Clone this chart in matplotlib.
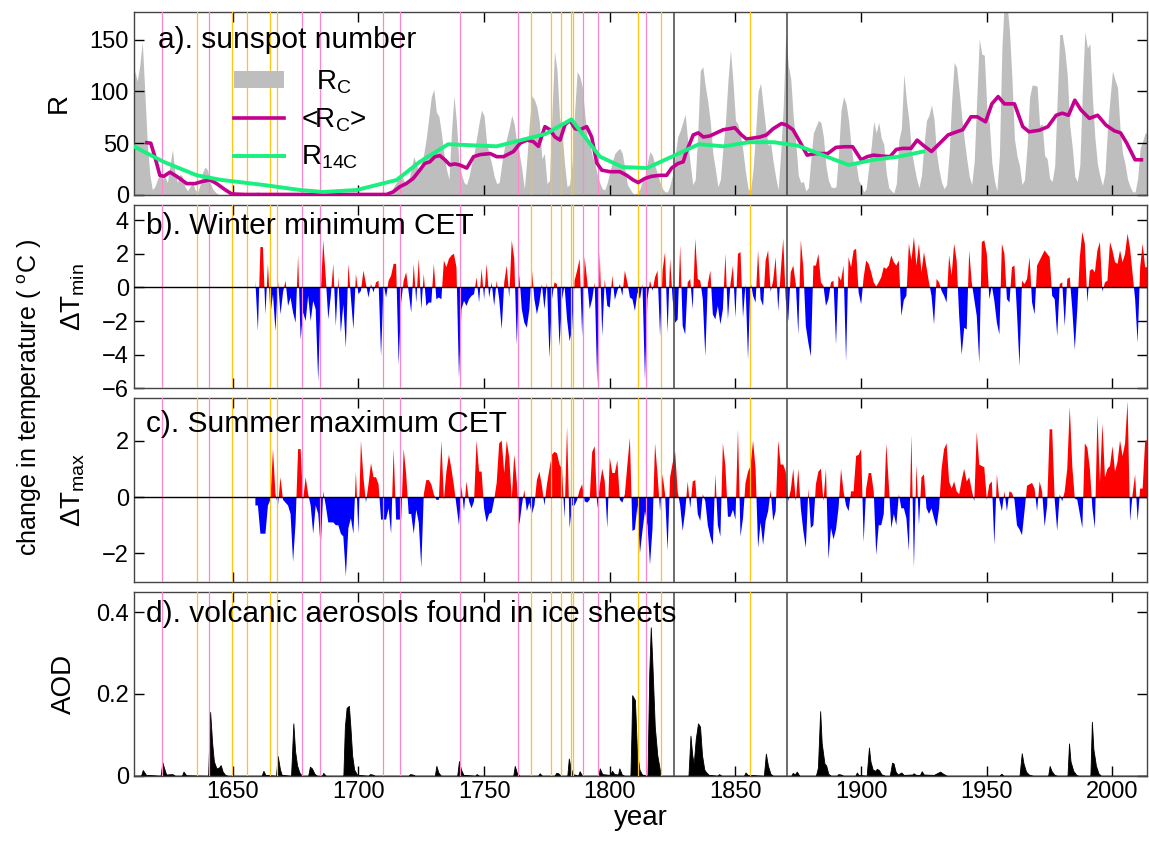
import numpy as np
import matplotlib
matplotlib.use("Agg")
import matplotlib.pyplot as plt
from matplotlib.patches import Patch
from matplotlib.lines import Line2D

plt.rcParams["font.family"] = ["Liberation Sans", "DejaVu Sans"]
plt.rcParams["mathtext.fontset"] = "custom"
plt.rcParams["mathtext.rm"] = "Liberation Sans"
plt.rcParams["mathtext.it"] = "Liberation Sans:italic"

# ---- a) sunspot number (read off the figure) ----
rc_points = [
    (1610, 50), (1611, 120), (1612, 110), (1613, 125), (1614, 148), (1615, 100), (1616, 50),
    (1617, 20), (1618, 5), (1619, 8), (1620, 15), (1621, 20), (1622, 15), (1623, 18), (1624, 12),
    (1625, 28), (1626, 44), (1627, 22), (1628, 12), (1629, 20), (1630, 18), (1631, 8), (1632, 4),
    (1633, 8), (1634, 12), (1635, 5), (1636, 3), (1637, 10), (1638, 22), (1639, 27), (1640, 24),
    (1641, 12), (1642, 6), (1643, 3), (1644, 1), (1645, 0), (1652, 2), (1655, 0), (1660, 3),
    (1662, 0), (1671, 2), (1673, 0), (1684, 2), (1686, 0), (1705, 2), (1707, 0), (1712, 0),
    (1713, 3), (1714, 8), (1715, 12), (1716, 18), (1717, 20), (1718, 14), (1719, 10), (1720, 14),
    (1721, 25), (1722, 37), (1723, 30), (1724, 22), (1725, 30), (1726, 40), (1727, 55), (1728, 75),
    (1729, 95), (1730, 102), (1731, 80), (1732, 76), (1733, 60), (1734, 40), (1735, 25), (1736, 15),
    (1737, 60), (1738, 96), (1739, 70), (1740, 30), (1741, 20), (1742, 12), (1743, 10), (1744, 18),
    (1745, 30), (1746, 40), (1747, 55), (1748, 70), (1749, 82), (1750, 76), (1751, 50), (1752, 40),
    (1753, 30), (1754, 18), (1755, 11), (1756, 12), (1757, 30), (1758, 45), (1759, 55), (1760, 65),
    (1761, 77), (1762, 68), (1763, 50), (1764, 40), (1765, 25), (1766, 6), (1767, 35), (1768, 70),
    (1769, 96), (1770, 92), (1771, 85), (1772, 70), (1773, 35), (1774, 40), (1775, 11), (1776, 14),
    (1777, 80), (1778, 139), (1779, 120), (1780, 75), (1781, 60), (1782, 30), (1783, 8), (1784, 10),
    (1785, 30), (1786, 80), (1787, 119), (1788, 115), (1789, 105), (1790, 80), (1791, 55), (1792, 50),
    (1793, 38), (1794, 31), (1795, 20), (1796, 12), (1797, 6), (1798, 5), (1799, 12), (1800, 22),
    (1801, 32), (1802, 40), (1803, 43), (1804, 45), (1805, 40), (1806, 25), (1807, 10), (1808, 6),
    (1809, 2), (1810, 1), (1811, 2), (1812, 6), (1813, 14), (1814, 18), (1815, 32), (1816, 42),
    (1817, 38), (1818, 28), (1819, 20), (1820, 12), (1821, 6), (1822, 3), (1823, 3), (1824, 10),
    (1825, 20), (1826, 38), (1827, 56), (1828, 62), (1829, 70), (1830, 78), (1831, 52), (1832, 30),
    (1833, 10), (1834, 15), (1835, 60), (1836, 120), (1837, 124), (1838, 105), (1839, 90), (1840, 70),
    (1841, 40), (1842, 25), (1843, 8), (1844, 15), (1845, 45), (1846, 70), (1847, 110), (1848, 140),
    (1849, 110), (1850, 72), (1851, 68), (1852, 58), (1853, 42), (1854, 22), (1855, 6), (1856, 4),
    (1857, 25), (1858, 60), (1859, 100), (1860, 108), (1861, 86), (1862, 65), (1863, 48), (1864, 50),
    (1865, 32), (1866, 17), (1867, 5), (1868, 42), (1869, 85), (1870, 156), (1871, 125), (1872, 112),
    (1873, 75), (1874, 50), (1875, 19), (1876, 12), (1877, 13), (1878, 4), (1879, 7), (1880, 35),
    (1881, 60), (1882, 66), (1883, 72), (1884, 70), (1885, 56), (1886, 28), (1887, 14), (1888, 8),
    (1889, 7), (1890, 8), (1891, 40), (1892, 82), (1893, 95), (1894, 88), (1895, 72), (1896, 47),
    (1897, 30), (1898, 30), (1899, 14), (1900, 10), (1901, 3), (1902, 6), (1903, 27), (1904, 47),
    (1905, 71), (1906, 60), (1907, 70), (1908, 55), (1909, 49), (1910, 21), (1911, 7), (1912, 4),
    (1913, 2), (1914, 11), (1915, 53), (1916, 64), (1917, 117), (1918, 91), (1919, 72), (1920, 43),
    (1921, 29), (1922, 16), (1923, 7), (1924, 19), (1925, 49), (1926, 72), (1927, 77), (1928, 87),
    (1929, 73), (1930, 40), (1931, 24), (1932, 12), (1933, 6), (1934, 10), (1935, 40), (1936, 90),
    (1937, 128), (1938, 123), (1939, 100), (1940, 76), (1941, 54), (1942, 35), (1943, 18), (1944, 10),
    (1945, 33), (1946, 93), (1947, 151), (1948, 136), (1949, 135), (1950, 84), (1951, 69), (1952, 31),
    (1953, 14), (1954, 4), (1955, 38), (1956, 142), (1957, 190), (1958, 185), (1959, 159), (1960, 112),
    (1961, 54), (1962, 38), (1963, 28), (1964, 10), (1965, 15), (1966, 47), (1967, 94), (1968, 106),
    (1969, 106), (1970, 105), (1971, 67), (1972, 69), (1973, 38), (1974, 35), (1975, 16), (1976, 13),
    (1977, 28), (1978, 93), (1979, 155), (1980, 155), (1981, 140), (1982, 116), (1983, 67), (1984, 46),
    (1985, 18), (1986, 13), (1987, 29), (1988, 100), (1989, 158), (1990, 142), (1991, 146), (1992, 94),
    (1993, 55), (1994, 30), (1995, 18), (1996, 9), (1997, 21), (1998, 64), (1999, 93), (2000, 120),
    (2001, 111), (2002, 104), (2003, 64), (2004, 40), (2005, 30), (2006, 15), (2007, 8), (2008, 3),
    (2009, 3), (2010, 16), (2011, 45), (2012, 52), (2013, 60), (2014, 60),
]

rc_mean_points = [
    (1615.8, 50.5), (1617.4, 50), (1619, 37), (1621, 19), (1622.5, 18), (1625, 22), (1627.7, 18),
    (1631.7, 11), (1635, 11), (1637.7, 13), (1641, 14.5), (1643.6, 11), (1647, 5), (1649.6, 1),
    (1655, 0.5), (1711.2, 0.5), (1713.8, 3), (1716.5, 8), (1719, 11), (1721.8, 16), (1724.4, 24),
    (1726.4, 30.5), (1728.4, 32), (1730.4, 37), (1732.4, 38), (1734.4, 34), (1736.4, 29),
    (1738.3, 30), (1740.3, 29), (1743.1, 26), (1745.8, 37), (1748.4, 39), (1752.4, 40), (1755, 37),
    (1757.7, 37), (1761.7, 42), (1764.3, 50), (1767, 53), (1769.6, 51.5), (1771.6, 47), (1774.2, 66),
    (1776.2, 63), (1778.2, 56), (1780.2, 53), (1782.2, 68), (1784.2, 72), (1786.2, 64), (1788.1, 63),
    (1790.8, 66), (1792.8, 56), (1794.8, 31), (1796.8, 24), (1800, 22.5), (1804, 22.5), (1806.7, 19),
    (1809.3, 14.5), (1811.3, 12), (1814, 16), (1816.6, 18), (1819.9, 19), (1822.6, 19), (1824.6, 26),
    (1827.2, 30.5), (1829.2, 32), (1830.5, 42), (1833.2, 58), (1835.2, 60), (1837.2, 56),
    (1839.8, 57), (1842.5, 60), (1845.1, 63), (1847.7, 64), (1849.7, 65), (1852.4, 58), (1854.4, 54),
    (1857, 55), (1859.7, 56), (1862.3, 58), (1865, 64), (1868.3, 69), (1870.3, 67.5), (1872.9, 63),
    (1875.6, 51.5), (1878.5, 38.5), (1881.8, 40), (1886.7, 40), (1890, 46), (1893.3, 46.6),
    (1896.6, 46.6), (1900, 34), (1902.4, 37), (1904.9, 38.5), (1908.2, 37.6), (1911.5, 37), (1914, 44),
    (1916.5, 45), (1919.8, 45), (1922.3, 53), (1924.7, 48), (1928, 42), (1931.3, 50), (1934.6, 58),
    (1938, 61), (1940.4, 63), (1943.7, 75.5), (1946.2, 75.5), (1949.5, 70.7), (1952, 88), (1954.5, 95),
    (1957, 88), (1961, 88), (1964.3, 66), (1966.8, 61), (1971, 62.6), (1974.3, 66), (1977.6, 77),
    (1980, 79), (1982.5, 77), (1985, 91.5), (1987.5, 82), (1990.8, 74), (1994.1, 77), (1997.4, 67.5),
    (2000.7, 62), (2003.2, 60), (2005.7, 50), (2009, 34), (2011.5, 34),
]

r14c_points = [
    (1610.8, 46.7), (1622.5, 32), (1635.7, 19), (1645.6, 14.5), (1662.2, 9.7), (1676.8, 4.8),
    (1686, 2.9), (1699.3, 4.8), (1715.2, 14.5), (1724.4, 32), (1735.7, 49), (1755, 47),
    (1774.5, 59), (1784.7, 73), (1796.1, 37), (1805, 27), (1814.8, 26), (1835.4, 49), (1845.3, 47),
    (1855.5, 51), (1865.2, 51), (1875, 47.5), (1895, 29), (1904.9, 34), (1914.8, 37), (1924.7, 42),
]

# ---- b) winter minimum CET anomaly, one value per year from 1659 ----
winter_min = [
    0.4,                                                        # 1659
    -2.6, 2.4, 2.4, -1.6, 1.4, -1.6, -0.4, -2.6, 0.4, -1.6,     # 1660s
    -0.3, 0.4, -1.1, -0.6, -1.5, -2.1, 1.9, -3.1, -1.5, -2.0,   # 1670s
    -0.5, -2.0, -0.8, -1.3, -5.6, -0.4, 2.8, 0.6, -1.9, -0.5,   # 1680s
    1.4, -2.3, 0.6, -2.7, -1.0, -3.6, 1.4, -0.6, -2.5, 0.8,     # 1690s
    -0.4, -0.2, 1.0, 0.2, -0.6, 0.2, -0.3, 0.3, 0.4, -4.1,      # 1700s
    0.2, -0.6, 0.4, 0.7, 1.4, 1.4, -4.6, -0.9, 0.4, 0.9,        # 1710s
    -0.3, -1.5, 1.4, -0.9, 1.7, -1.3, 0.8, -1.1, -0.9, -0.9,    # 1720s
    1.4, -0.7, -0.6, -0.7, 1.6, 1.2, 1.7, 1.9, 2.0, 1.2,        # 1730s
    -5.4, -1.3, -0.8, -1.1, -0.7, -0.5, -0.4, 0.6, -0.9, 1.1,   # 1740s
    -0.7, 1.4, -0.6, 0.3, -1.1, 0.4, -0.7, -2.5, 0.3, 1.3,      # 1750s
    -0.6, 2.8, 1.7, -3.4, 0.8, -1.3, -2.1, -2.4, -1.3, 1.1,     # 1760s
    -0.7, -1.6, -0.9, 0.2, -1.3, 0.3, -4.2, -0.7, 0.3, 0.2,     # 1770s
    -3.5, -0.7, 0.1, -1.9, -3.2, -2.5, 0.4, 1.0, 1.7, -2.9,     # 1780s
    1.8, 0.4, -1.3, -0.7, 0.3, -5.7, 2.1, -2.9, 0.5, -1.1,      # 1790s
    -1.2, 0.7, -0.75, -0.2, 0.2, -0.5, 1.0, 0.3, -0.6, -0.7,    # 1800s
    -1.4, -0.3, -0.7, 0.2, -5.5, -0.7, 0.4, -0.2, 0.6, 1.0,     # 1810s
    -2.9, 1.0, 2.1, -2.7, 1.7, -0.7, -2.1, -1.9, 2.5, -2.3,     # 1820s
    -2.8, 0.3, 0.5, -1.3, 2.9, 0.5, 0.4, -0.7, -4.1, 0.2,       # 1830s
    1.0, -1.6, -1.9, -1.1, -2.2, -1.3, 2.0, -1.9, 0.2, 1.3,     # 1840s
    -1.8, 2.0, 2.1, -1.8, 0.2, -4.3, 0.4, -0.5, -0.9, 2.2,      # 1850s
    -0.7, -1.1, 1.6, 2.2, -0.25, 0.4, 1.8, -1.4, 0.9, 2.9,      # 1860s
    -0.7, -2.0, 0.9, 1.3, 0.2, -2.8, 2.8, 1.2, -2.3, -3.3,      # 1870s
    -4.1, 1.3, 1.3, 2.0, 0.3, 0.1, -1.1, -0.7, 0.3, 0.4,        # 1880s
    -3.4, 0.7, 0.4, 1.3, -4.4, 1.8, 1.2, 2.2, 2.3, -0.3,        # 1890s
    -1.0, 0.6, 1.6, 1.4, 0.9, 0.3, 0.05, 0.3, 0.6, 1.2,         # 1900s
    1.1, 1.3, 1.9, 1.5, 1.3, 1.6, -1.7, -0.75, -0.5, 2.6,       # 1910s
    1.6, 3.0, 1.3, 2.6, 0.9, 2.1, 1.2, 0.3, -0.5, -2.2,         # 1920s
    0.5, 0.3, -0.2, -0.5, -0.9, 1.9, 0.7, 2.6, 1.6, -1.7,       # 1930s
    -4.0, -2.4, -2.5, 2.2, 0.3, -0.7, -1.7, -4.5, 2.7, 2.8,     # 1940s
    2.0, -0.7, 0.1, -0.8, -2.1, -2.8, 2.6, 2.0, -0.7, -0.9,     # 1950s
    1.2, 1.3, -1.5, -4.7, 0.4, 0.2, 0.5, 1.8, -0.9, -1.6,       # 1960s
    1.3, 1.6, 1.9, 2.2, 2.0, 1.8, -0.5, -0.7, -2.9, 0.2,        # 1970s
    0.3, -2.3, 0.5, 0.6, -1.3, -3.7, -1.3, 1.8, 3.3, 2.6,       # 1980s
    -0.9, 1.0, 1.1, 0.9, 2.2, 2.7, -0.25, 0.3, 0.4, 2.7,        # 1990s
    2.2, 1.5, 1.4, 2.2, 1.5, 2.0, 3.2, 2.3, 0.8, -0.7,          # 2000s
    -3.3, 1.2, 2.6, 1.2, 1.2,                                   # 2010s
]

# ---- c) summer maximum CET anomaly, one value per year from 1659 ----
summer_max = [
    -0.3,                                                        # 1659
    -0.3, -1.3, -1.3, -1.3, -0.3, -0.1, 1.7, 0.1, -0.3, 0.7,     # 1660s
    -0.1, -0.2, -0.3, -0.6, -2.3, -0.9, 1.7, 1.7, -0.1, 0.7,     # 1670s
    0.1, -0.3, -1.3, -0.3, -0.6, -1.8, 0.2, -0.3, -0.9, -0.9,    # 1680s
    -0.9, -1.0, -1.0, -1.3, -1.4, -2.8, -1.1, -0.75, -1.3, 0.9,  # 1690s
    -1.3, 2.0, 0.7, -0.2, 0.45, 1.2, 0.7, 0.7, 0.45, -0.8,       # 1700s
    -0.8, -0.8, -0.4, -1.3, 1.7, -0.8, -0.8, -0.8, 1.7, 0.8,     # 1710s
    -0.6, -0.6, -1.3, -0.45, -0.9, -2.5, 0.1, 0.6, 0.6, 0.45,    # 1720s
    0.1, -0.1, -0.1, 2.0, -0.1, 0.9, 1.5, 1.0, 0.4, -0.3,        # 1730s
    -1.0, 0.4, -0.5, 0.55, -0.15, -0.4, -0.15, 2.0, 0.9, 0.9,    # 1740s
    -0.4, -0.9, -0.6, -0.55, -0.1, 0.5, 1.9, 2.0, 0.85, 2.0,     # 1750s
    1.4, -0.05, 1.5, 0.55, -1.0, -0.3, 0.25, -0.5, -0.2, -0.6,   # 1760s
    -0.3, 0.6, 0.9, 0.4, -0.3, 0.45, 1.0, 1.5, 1.6, 1.55,        # 1770s
    1.15, 1.0, -0.75, 2.5, -1.1, -0.3, -0.3, -0.1, 0.25, 0.45,   # 1780s
    -0.15, -0.2, -0.1, 1.6, 1.8, -0.4, 0.4, 1.0, 0.55, -1.1,     # 1790s
    1.4, 0.85, 0.85, 1.3, -0.1, -0.2, 0.1, 1.15, 2.1, -1.2,      # 1800s
    -1.15, -0.3, -2.0, -1.2, -0.5, -1.0, -2.4, -1.1, 1.9, 0.8,   # 1810s
    -0.5, 0.8, 0.1, -1.9, 0.7, 1.2, 1.6, 0.2, -0.3, -1.2,        # 1820s
    -0.5, 0.55, -0.4, 0.55, 0.6, -0.6, -0.85, 0.1, -0.15, -1.0,  # 1830s
    -1.4, -1.7, 0.8, -1.0, -1.4, 1.9, 1.1, -0.7, -0.7, -0.45,    # 1840s
    -0.8, 2.4, -1.4, -0.75, 0.5, 0.9, 1.1, 2.0, 1.0, -1.8,       # 1850s
    -0.9, -1.7, -0.85, -0.5, 0.25, -0.85, -0.5, 2.0, 1.15, 1.15, # 1860s
    0.9, -0.15, 0.25, 1.0, -0.15, 1.0, -0.4, -1.2, -1.8, 0.3,    # 1870s
    -1.1, -1.0, 0.45, 0.9, 1.0, -0.15, 1.0, -2.2, -1.1, -1.5,    # 1880s
    -1.15, -0.4, 1.0, 0.2, -0.3, -0.5, 0.2, 0.2, 1.45, 1.5,      # 1890s
    1.7, -1.6, 0.3, 0.85, 0.85, 0.2, -2.05, -1.0, -1.0, -0.6,    # 1900s
    1.9, 0.45, -1.1, -0.6, -1.0, 0.1, -0.4, -0.4, -0.75, -1.9,   # 1910s
    2.2, -2.5, 1.15, -1.0, 0.7, 0.8, -0.4, -0.6, -0.4, -0.75,    # 1920s
    -1.05, -0.4, 1.0, 1.7, 1.9, 0.55, 0.3, 0.55, 0.2, 0.1,       # 1930s
    0.6, 1.0, 0.55, 0.7, 0.25, -0.15, 2.3, 1.15, 1.1, 1.05,      # 1940s
    -0.1, 0.45, 0.55, -1.7, 0.8, -0.1, -0.5, 0.2, -0.5, 0.2,     # 1950s
    0.15, -0.1, -1.0, -1.15, -1.35, -0.5, 0.4, 0.45, 0.5, 0.3,   # 1960s
    -0.5, 0.55, 0.2, -1.05, -0.3, 2.4, 2.4, -0.1, -1.2, 0.1,     # 1970s
    -0.15, 0.2, 1.0, 3.2, 1.1, -0.05, -0.1, -0.6, -1.1, 1.9,     # 1980s
    1.75, 1.0, -0.4, -1.1, 2.9, 0.5, 2.6, 0.7, 1.0, 1.1,         # 1990s
    1.8, 0.9, 1.25, 2.0, 1.45, 1.9, 3.4, -0.85, 0.1, 0.8,        # 2000s
    -0.85, 0.3, 0.3, 2.0, 2.0,                                   # 2010s
]

# ---- d) volcanic aerosol optical depth (vertices of the trace) ----
aod_points = [
    (1610, 0), (1613.5, 0), (1614.2, 0.014), (1615.5, 0.002), (1621.3, 0), (1622, 0.033),
    (1622.6, 0.02), (1623.5, 0.003), (1626, 0.004), (1627, 0), (1629.8, 0), (1630.4, 0.01),
    (1631.5, 0.001), (1640.2, 0), (1641, 0.156), (1641.8, 0.08), (1642.5, 0.035), (1643.5, 0.018),
    (1644.5, 0.02), (1645.2, 0.026), (1646, 0.01), (1647, 0.002), (1648, 0), (1661.5, 0),
    (1662.2, 0.012), (1663, 0.002), (1667.2, 0), (1667.9, 0.048), (1668.8, 0.015), (1669.5, 0.002),
    (1673.2, 0), (1674.1, 0.128), (1674.8, 0.06), (1675.6, 0.025), (1676.5, 0.008), (1677.5, 0),
    (1680, 0), (1680.7, 0.022), (1681.5, 0.018), (1682.5, 0.005), (1683.5, 0), (1685.5, 0),
    (1686, 0.007), (1687, 0), (1694, 0), (1694.6, 0.12), (1695.3, 0.166), (1696.2, 0.171),
    (1696.8, 0.12), (1697.5, 0.05), (1698.3, 0.015), (1699.5, 0.002), (1704, 0), (1704.6, 0.004),
    (1705.5, 0.003), (1706.5, 0), (1720, 0), (1720.5, 0.004), (1721.5, 0.003), (1722.5, 0),
    (1730.4, 0), (1731, 0.024), (1731.8, 0.008), (1732.8, 0), (1739.3, 0), (1740, 0.036),
    (1740.8, 0.015), (1741.8, 0.002), (1746.5, 0), (1747, 0.004), (1748, 0), (1761.6, 0),
    (1762.2, 0.024), (1763, 0.008), (1764, 0), (1771.5, 0), (1772.1, 0.006), (1773, 0),
    (1778, 0), (1778.7, 0.007), (1779.5, 0.006), (1780.5, 0), (1783.1, 0), (1783.7, 0.042),
    (1784.4, 0.02), (1785.3, 0.004), (1787.4, 0), (1788, 0.011), (1789, 0), (1795.5, 0),
    (1796, 0.018), (1797, 0.004), (1800, 0.002), (1800.9, 0.012), (1801.8, 0.004), (1803.3, 0.003),
    (1803.8, 0.018), (1804.8, 0.003), (1805.8, 0), (1808.2, 0), (1808.6, 0.1), (1808.9, 0.197),
    (1810.0, 0.185), (1810.8, 0.06), (1811.8, 0.015), (1812.8, 0.003), (1815.0, 0), (1815.7, 0.25),
    (1816.3, 0.363), (1816.9, 0.28), (1817.9, 0.12), (1818.9, 0.05), (1819.9, 0.015), (1820.5, 0),
    (1831.3, 0), (1832.1, 0.098), (1832.8, 0.05), (1833.4, 0.03), (1834.2, 0.09), (1835.1, 0.128),
    (1835.9, 0.12), (1836.7, 0.05), (1837.6, 0.015), (1838.4, 0.008), (1839.4, 0.002), (1842.9, 0),
    (1843.5, 0.004), (1844.4, 0), (1853.4, 0), (1854.0, 0.008), (1854.9, 0.002), (1861.3, 0),
    (1862.1, 0.054), (1862.9, 0.025), (1863.9, 0.005), (1864.9, 0), (1872.2, 0), (1872.8, 0.007),
    (1873.6, 0.003), (1874.4, 0.01), (1875.4, 0), (1882, 0), (1882.8, 0.02), (1883.7, 0.158),
    (1884.3, 0.08), (1885.4, 0.03), (1886.1, 0.025), (1886.9, 0.005), (1887.9, 0), (1890.4, 0),
    (1890.9, 0.004), (1891.9, 0.003), (1892.9, 0), (1897.7, 0), (1898.3, 0.008), (1898.9, 0.002),
    (1902.2, 0), (1903.1, 0.069), (1903.7, 0.035), (1904.6, 0.015), (1905.6, 0.012),
    (1906.3, 0.017), (1907.2, 0.013), (1908.0, 0.004), (1909.4, 0), (1911.4, 0), (1912.3, 0.032),
    (1912.9, 0.03), (1913.7, 0.01), (1914.6, 0.003), (1916.0, 0.008), (1916.9, 0.002),
    (1920.4, 0.003), (1920.8, 0.006), (1921.9, 0.002), (1923.4, 0.002), (1924.1, 0.011),
    (1924.9, 0.003), (1928.9, 0.002), (1931.4, 0.01), (1932.6, 0.005), (1934, 0), (1955, 0),
    (1955.8, 0.005), (1956.6, 0), (1963, 0), (1963.9, 0.055), (1964.6, 0.03), (1965.6, 0.01),
    (1966.9, 0.002), (1968.4, 0), (1974.4, 0), (1975.0, 0.024), (1975.7, 0.012), (1976.9, 0.002),
    (1977.9, 0), (1982.1, 0), (1982.7, 0.079), (1983.3, 0.035), (1984.4, 0.012), (1985.6, 0.002),
    (1986.4, 0), (1991.2, 0), (1991.8, 0.132), (1992.4, 0.065), (1993.4, 0.025), (1994.4, 0.006),
    (1995.4, 0), (2014, 0),
]

# marker lines
pink_years = [1621.8, 1640.7, 1677.7, 1684.7, 1709.7, 1716.5, 1740.5, 1763.6, 1789.5, 1795.4, 1814.5]
gold_years = [1635.7, 1649.7, 1655.6, 1664.7, 1667.8, 1768.5, 1776.5, 1780.6, 1784.6, 1785.5,
              1811.4, 1820.5, 1855.6]
black_years = [1825.4, 1870.4]

PINK, GOLD, DARK = "#ff86cc", "#ffc414", "#444444"
TICK_FS, TITLE_FS, LABEL_FS = 17, 21.5, 20


def unzip(points):
    arr = np.array(points, dtype=float)
    return arr[:, 0], arr[:, 1]


def style_axis(ax, ylim, yticks, yticklabels=None):
    ax.set_xlim(1610.7, 2013.7)
    ax.set_ylim(*ylim)
    ax.set_yticks(yticks)
    if yticklabels is not None:
        ax.set_yticklabels(yticklabels)
    ax.set_xticks(range(1650, 2001, 50))
    ax.tick_params(direction="in", length=7, width=1, top=True, right=True,
                   labelsize=TICK_FS, colors="black")
    for s in ax.spines.values():
        s.set_color(DARK)
        s.set_linewidth(1.0)
    for yr in pink_years:
        ax.axvline(yr, color=PINK, lw=0.9, zorder=3)
    for yr in gold_years:
        ax.axvline(yr, color=GOLD, lw=0.9, zorder=3)
    for yr in black_years:
        ax.axvline(yr, color=DARK, lw=1.1, zorder=3)


def anomaly_panel(ax, years, vals):
    ax.fill_between(years, vals, 0, where=vals >= 0, interpolate=True, color="#ff0000", lw=0, zorder=2)
    ax.fill_between(years, vals, 0, where=vals <= 0, interpolate=True, color="#0000ff", lw=0, zorder=2)
    ax.axhline(0, color="black", lw=1.0, zorder=4)


fig = plt.figure(figsize=(11.49, 8.43), dpi=100)
left, width = 0.1166, 0.8816
ax_a = fig.add_axes([left, 0.7687, width, 0.2174])
ax_b = fig.add_axes([left, 0.5394, width, 0.2174])
ax_c = fig.add_axes([left, 0.3100, width, 0.2176])
ax_d = fig.add_axes([left, 0.0798, width, 0.2183])

# a) sunspots
x, y = unzip(rc_points)
ax_a.fill_between(x, y, 0, color="#bebebe", lw=0, zorder=1)
x, y = unzip(rc_mean_points)
ax_a.plot(x, y, color="#c4008f", lw=2.6, zorder=5)
x, y = unzip(r14c_points)
ax_a.plot(x, y, color="#19f07f", lw=2.8, zorder=6)
style_axis(ax_a, (0, 177), [0, 50, 100, 150])
ax_a.text(0.024, 0.845, "a). sunspot number", transform=ax_a.transAxes, fontsize=TITLE_FS,
          va="center", ha="left", zorder=7)
handles = [Patch(facecolor="#bebebe", edgecolor="none"),
           Line2D([], [], color="#c4008f", lw=2.6),
           Line2D([], [], color="#19f07f", lw=2.8)]
ax_a.legend(handles, [r"  R$_\mathrm{C}$", r"<R$_\mathrm{C}$>", r"R$_\mathrm{14C}$"],
            loc="upper left", bbox_to_anchor=(0.088, 0.75), frameon=False, fontsize=LABEL_FS,
            handlelength=1.8, handleheight=0.55, handletextpad=0.6, labelspacing=0.36,
            borderaxespad=0)
ax_a.set_ylabel("R", fontsize=LABEL_FS)
ax_a.yaxis.set_label_coords(-0.061, 0.5)

# b) winter minimum
w = np.array(winter_min)
anomaly_panel(ax_b, np.arange(1659, 1659 + len(w)), w)
style_axis(ax_b, (-6, 4.9), [-6, -4, -2, 0, 2, 4])
ax_b.text(0.012, 0.883, "b). Winter minimum CET", transform=ax_b.transAxes, fontsize=TITLE_FS,
          va="center", ha="left", zorder=7)
ax_b.set_ylabel(r"$\Delta$T$_\mathrm{min}$", fontsize=LABEL_FS)
ax_b.yaxis.set_label_coords(-0.046, 0.5)

# c) summer maximum
s = np.array(summer_max)
anomaly_panel(ax_c, np.arange(1659, 1659 + len(s)), s)
style_axis(ax_c, (-3, 3.5), [-2, 0, 2])
ax_c.text(0.012, 0.86, "c). Summer maximum CET", transform=ax_c.transAxes, fontsize=TITLE_FS,
          va="center", ha="left", zorder=7)
ax_c.set_ylabel(r"$\Delta$T$_\mathrm{max}$", fontsize=LABEL_FS)
ax_c.yaxis.set_label_coords(-0.046, 0.5)

# d) AOD
x, y = unzip(aod_points)
ax_d.fill_between(x, y, 0, color="black", lw=0.6, edgecolor="black", zorder=2)
style_axis(ax_d, (0, 0.45), [0, 0.2, 0.4], ["0", "0.2", "0.4"])
ax_d.text(0.012, 0.88, "d). volcanic aerosols found in ice sheets", transform=ax_d.transAxes,
          fontsize=TITLE_FS, va="center", ha="left", zorder=7)
ax_d.set_ylabel("AOD", fontsize=LABEL_FS)
ax_d.yaxis.set_label_coords(-0.056, 0.5)
ax_d.set_xlabel("year", fontsize=LABEL_FS, labelpad=2)

for ax in (ax_a, ax_b, ax_c):
    ax.tick_params(labelbottom=False)

fig.text(0.026, 0.529, r"change in temperature ( $^\mathrm{o}$C )", rotation=90, fontsize=18,
         ha="center", va="center")

fig.savefig("out.png", dpi=100)
